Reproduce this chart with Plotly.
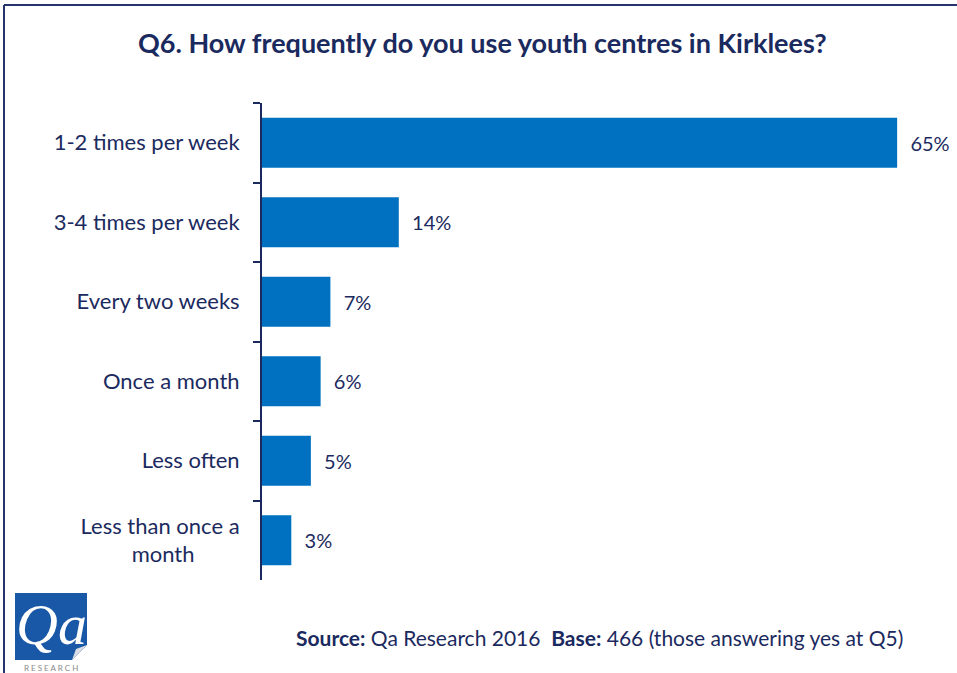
import plotly.graph_objects as go

# Survey responses: how often youth centres are used (percent of respondents)
categories = [
    "1-2 times per week",
    "3-4 times per week",
    "Every two weeks",
    "Once a month",
    "Less often",
    "Less than once a month",
]
percentages = [65, 14, 7, 6, 5, 3]

title_text = "Q6. How frequently do you use youth centres in Kirklees?"
source_text = "<b>Source:</b> Qa Research 2016  <b>Base:</b> 466 (those answering yes at Q5)"

NAVY = "#1B2A5E"
BAR_BLUE = "#0070C0"
FONT = "Lato, 'Open Sans', sans-serif"

W, H = 957, 673
L, R, T, B = 262, 11, 103, 93
PW, PH = W - L - R, H - T - B


def px_x(px):
    return (px - L) / PW


def px_y(py):
    return (H - B - py) / PH


# Long category names wrap onto two lines, second line centred under the first
wrapped = {"Less than once a month": "Less than once a<br>month" + "\u00a0" * 8}
y_labels = [wrapped.get(c, c) for c in categories]

fig = go.Figure(
    go.Bar(
        x=percentages,
        y=y_labels,
        orientation="h",
        marker=dict(color=BAR_BLUE, line=dict(width=0)),
        width=0.63,
        text=[f"\u00a0\u00a0{v}%" for v in percentages],
        textposition="outside",
        textfont=dict(family=FONT, size=20, color=NAVY),
        cliponaxis=False,
        hoverinfo="skip",
    )
)

fig.update_xaxes(
    range=[0, 70],
    visible=False,
    showgrid=False,
    zeroline=False,
)
fig.update_yaxes(
    type="category",
    categoryorder="array",
    categoryarray=y_labels,
    autorange="reversed",
    showline=True,
    linecolor=NAVY,
    linewidth=2,
    ticks="outside",
    ticklen=7,
    tickwidth=2,
    tickcolor=NAVY,
    tickson="boundaries",
    ticklabelstandoff=16,
    tickfont=dict(family=FONT, size=22, color=NAVY),
    showgrid=False,
    zeroline=False,
)

annotations = [
    dict(
        text=f"<b>{title_text}</b>",
        x=px_x(482), y=px_y(42), xref="paper", yref="paper",
        xanchor="center", yanchor="middle", showarrow=False,
        font=dict(family=FONT, size=27, color=NAVY),
    ),
    dict(
        text=source_text,
        x=px_x(905), y=px_y(637), xref="paper", yref="paper",
        xanchor="right", yanchor="middle", showarrow=False,
        font=dict(family=FONT, size=21, color=NAVY),
    ),
    # Company logo lettering
    dict(
        text="Qa",
        x=px_x(51), y=px_y(624), xref="paper", yref="paper",
        xanchor="center", yanchor="middle", showarrow=False,
        font=dict(family="Liberation Serif, serif", size=58, color="white", style="italic"),
    ),
    dict(
        text="R E S E A R C H",
        x=px_x(51), y=px_y(668), xref="paper", yref="paper",
        xanchor="center", yanchor="middle", showarrow=False,
        font=dict(family=FONT, size=8, color="#8A8A8A"),
    ),
]

shapes = [
    # page frame: top and left rules
    dict(type="line", xref="paper", yref="paper",
         x0=px_x(4), x1=px_x(W + 2), y0=px_y(5), y1=px_y(5),
         line=dict(color="#25346A", width=2)),
    dict(type="line", xref="paper", yref="paper",
         x0=px_x(4), x1=px_x(4), y0=px_y(5), y1=px_y(H + 2),
         line=dict(color="#25346A", width=2)),
    # logo tile
    dict(type="rect", xref="paper", yref="paper",
         x0=px_x(15), x1=px_x(87), y0=px_y(660), y1=px_y(593),
         fillcolor="#1858A6", line=dict(width=0), layer="below"),
    dict(type="path", xref="paper", yref="paper",
         path=(f"M {px_x(72)},{px_y(660)} L {px_x(87)},{px_y(645)} "
               f"L {px_x(87)},{px_y(660)} Z"),
         fillcolor="white", line=dict(width=0)),
    dict(type="path", xref="paper", yref="paper",
         path=(f"M {px_x(72)},{px_y(660)} L {px_x(87)},{px_y(645)} "
               f"L {px_x(76)},{px_y(649)} Z"),
         fillcolor="#D8DCE4", line=dict(width=0)),
]

fig.update_layout(
    width=W,
    height=H,
    margin=dict(l=L, r=R, t=T, b=B, pad=0),
    paper_bgcolor="white",
    plot_bgcolor="white",
    showlegend=False,
    annotations=annotations,
    shapes=shapes,
    font=dict(family=FONT, color=NAVY),
)

fig.write_html("out.html")
